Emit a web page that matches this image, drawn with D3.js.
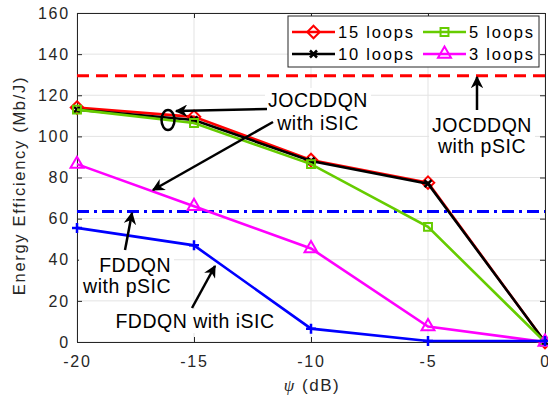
<!DOCTYPE html>
<html>
<head>
<meta charset="utf-8">
<script src="https://cdn.jsdelivr.net/npm/d3@7"></script>
<style>
  body { margin: 0; background: #fff; }
  text { font-family: "Liberation Sans", Arial, sans-serif; }
</style>
</head>
<body>
<div id="chart"></div>
<script>
// psi values (dB)
const psi = [-20, -15, -10, -5, 0];
const loops15 = [114, 109.5, 88.5, 77.5, 0];
const loops10 = [113, 108, 88, 77, 0];
const loops5 = [113, 106.5, 86.5, 56, 0];
const loops3 = [86.5, 66, 45.5, 7.5, 0];
const fddqnISIC = [55.5, 47, 6.5, 0.5, 0.5];
const jocPSIC = 129.5;
const fddqnPSIC = 63.5;
const xTicks = [-20, -15, -10, -5, 0];
const yTicks = [0, 20, 40, 60, 80, 100, 120, 140, 160];

const W = 548, H = 398;
const m = { left: 77, right: 3, top: 13, bottom: 56 };

const svg = d3.select('#chart').append('svg')
  .attr('width', W).attr('height', H);

const x = d3.scaleLinear().domain([-20, 0]).range([m.left, W - m.right]);
const y = d3.scaleLinear().domain([0, 160]).range([H - m.bottom, m.top]);

// grid
const grid = svg.append('g');
grid.selectAll('.gx').data(xTicks).enter().append('line')
  .attr('x1', d => x(d)).attr('x2', d => x(d))
  .attr('y1', y(0)).attr('y2', y(160))
  .attr('stroke', '#e3e3e3').attr('stroke-width', 1);
grid.selectAll('.gy').data(yTicks).enter().append('line')
  .attr('x1', x(-20)).attr('x2', x(0))
  .attr('y1', d => y(d)).attr('y2', d => y(d))
  .attr('stroke', '#e3e3e3').attr('stroke-width', 1);

// axes
const fmt = d => String(d);
svg.append('g').attr('transform', `translate(0,${y(0)})`)
  .call(d3.axisBottom(x).tickValues(xTicks).tickFormat(fmt).tickSizeInner(-5).tickSizeOuter(0).tickPadding(14));
svg.append('g').attr('transform', `translate(${x(-20)},0)`)
  .call(d3.axisLeft(y).tickValues(yTicks).tickFormat(fmt).tickSizeInner(-5).tickSizeOuter(0).tickPadding(7));
svg.append('g').attr('transform', `translate(0,${y(160)})`)
  .call(d3.axisTop(x).tickValues(xTicks).tickFormat('').tickSizeInner(-5).tickSizeOuter(0));
svg.append('g').attr('transform', `translate(${x(0)},0)`)
  .call(d3.axisRight(y).tickValues(yTicks).tickFormat('').tickSizeInner(-5).tickSizeOuter(0));
svg.selectAll('.domain').attr('stroke', '#262626').attr('stroke-width', 1);
svg.selectAll('.tick line').attr('stroke', '#262626');
svg.selectAll('.tick text').attr('fill', '#262626').style('font-size', '16px')
  .style('letter-spacing', '1.8px')
  .style('font-family', '"Liberation Sans", Arial, sans-serif');
// the last x label sits at the right edge: keep it inside the window
svg.selectAll('.tick text').filter(d => d === 0 && false);

// labels
svg.append('text')
  .attr('transform', `translate(25,${(y(0) + y(160)) / 2 + 8}) rotate(-90)`)
  .attr('text-anchor', 'middle').attr('fill', '#262626').style('font-size', '16.5px')
  .style('letter-spacing', '1.7px')
  .text('Energy Efficiency (Mb/J)');
const xl = svg.append('text').attr('x', 312).attr('y', 391)
  .attr('text-anchor', 'middle').attr('fill', '#262626').style('font-size', '17px')
  .style('letter-spacing', '1.5px');
xl.append('tspan').style('font-family', '"Liberation Serif", serif').style('font-style', 'italic').text('\u03C8');
xl.append('tspan').text(' (dB)');

// reference lines (perfect SIC)
svg.append('line').attr('x1', x(-20)).attr('x2', x(0))
  .attr('y1', y(jocPSIC)).attr('y2', y(jocPSIC))
  .attr('stroke', '#ff0000').attr('stroke-width', 3).attr('stroke-dasharray', '12,7');
svg.append('line').attr('x1', x(-20)).attr('x2', x(0))
  .attr('y1', y(fddqnPSIC)).attr('y2', y(fddqnPSIC))
  .attr('stroke', '#0000ff').attr('stroke-width', 3).attr('stroke-dasharray', '12,5,3,5');

const sym = {
  diamond: d3.symbol().type(d3.symbolDiamond2 || d3.symbolDiamond).size(100),
  square: d3.symbol().type(d3.symbolSquare2 || d3.symbolSquare).size(80),
  triangle: d3.symbol().type(d3.symbolTriangle2 || d3.symbolTriangle).size(120)
};

const series = [
  { name: '15 loops', values: loops15, color: '#ff0000', marker: 'diamond' },
  { name: '10 loops', values: loops10, color: '#000000', marker: 'cross' },
  { name: '5 loops', values: loops5, color: '#66cc00', marker: 'square' },
  { name: '3 loops', values: loops3, color: '#ff00ff', marker: 'triangle' },
  { name: 'FDDQN iSIC', values: fddqnISIC, color: '#0000ff', marker: 'plus' }
];

function setMarker(sel, s) {
  sel.attr('fill', 'none').attr('stroke', s.color).attr('stroke-width', 2);
  if (s.marker === 'cross') {
    sel.attr('d', 'M-3.5,-3.5L3.5,3.5M-3.5,3.5L3.5,-3.5').attr('stroke-width', 2.5);
  } else if (s.marker === 'plus') {
    sel.attr('d', 'M-5,0L5,0M0,-5L0,5').attr('stroke-width', 2.5);
  } else {
    sel.attr('d', sym[s.marker]());
  }
}

const line = d3.line().x((d, i) => x(psi[i])).y(d => y(d));

series.forEach(s => {
  const g = svg.append('g');
  g.append('path').datum(s.values).attr('d', line)
    .attr('fill', 'none').attr('stroke', s.color).attr('stroke-width', 2.6);
  g.selectAll('path.m').data(s.values).enter().append('path')
    .attr('class', 'm')
    .attr('transform', (d, i) => `translate(${x(psi[i])},${y(d)})`)
    .call(setMarker, s);
});

// legend
const lg = svg.append('g');
lg.append('rect').attr('x', 288).attr('y', 16).attr('width', 251).attr('height', 51)
  .attr('fill', '#fff').attr('stroke', '#262626').attr('stroke-width', 1);
const legPos = [[292, 32], [292, 54], [423, 32], [423, 54]];
series.slice(0, 4).forEach((s, i) => {
  const [lx, ly] = legPos[i];
  lg.append('line').attr('x1', lx).attr('x2', lx + 43).attr('y1', ly).attr('y2', ly)
    .attr('stroke', s.color).attr('stroke-width', 2.6);
  lg.append('path').attr('transform', `translate(${lx + 21.5},${ly})`).call(setMarker, s);
  lg.append('text').attr('x', lx + 46).attr('y', ly + 6).attr('fill', '#000')
    .style('font-size', '16.5px').style('letter-spacing', '1.8px').text(s.name);
});

// annotations
const defs = svg.append('defs');
defs.append('marker').attr('id', 'ah').attr('viewBox', '0 0 10 10')
  .attr('refX', 9).attr('refY', 5).attr('markerWidth', 5).attr('markerHeight', 5)
  .attr('orient', 'auto')
  .append('path').attr('d', 'M0,0L10,5L0,10L3,5Z').attr('fill', '#000');

function arrow(x1, y1, x2, y2) {
  svg.append('line').attr('x1', x1).attr('y1', y1).attr('x2', x2).attr('y2', y2)
    .attr('stroke', '#000').attr('stroke-width', 2.5).attr('marker-end', 'url(#ah)');
}

function label(lines, cx, cy, anchor, gap) {
  const g = svg.append('g');
  const t = g.append('text').attr('text-anchor', anchor || 'middle').attr('fill', '#000')
    .style('font-size', '19.5px').style('letter-spacing', '0.5px');
  lines.forEach((l, i) => t.append('tspan').attr('x', cx).attr('y', cy + i * (gap || 22)).text(l));
  const bb = t.node().getBBox();
  g.insert('rect', 'text').attr('x', bb.x - 3).attr('y', bb.y - 1)
    .attr('width', bb.width + 6).attr('height', bb.height + 2).attr('fill', '#fff');
}

svg.append('ellipse').attr('cx', 168).attr('cy', 120).attr('rx', 6.5).attr('ry', 10)
  .attr('fill', 'none').attr('stroke', '#000').attr('stroke-width', 2.5);
label(['JOCDDQN', 'with iSIC'], 318, 107, 'middle', 23);
arrow(267, 109, 176, 111);
arrow(273, 122, 153, 190);

label(['JOCDDQN', 'with pSIC'], 482, 132, 'middle', 21);
arrow(477, 110, 477, 77);

label(['FDDQN', 'with pSIC'], 171, 272, 'end', 21);
arrow(125, 250, 132, 213);

label(['FDDQN with iSIC'], 195, 328);
arrow(192, 308, 215, 266);
</script>
</body>
</html>
